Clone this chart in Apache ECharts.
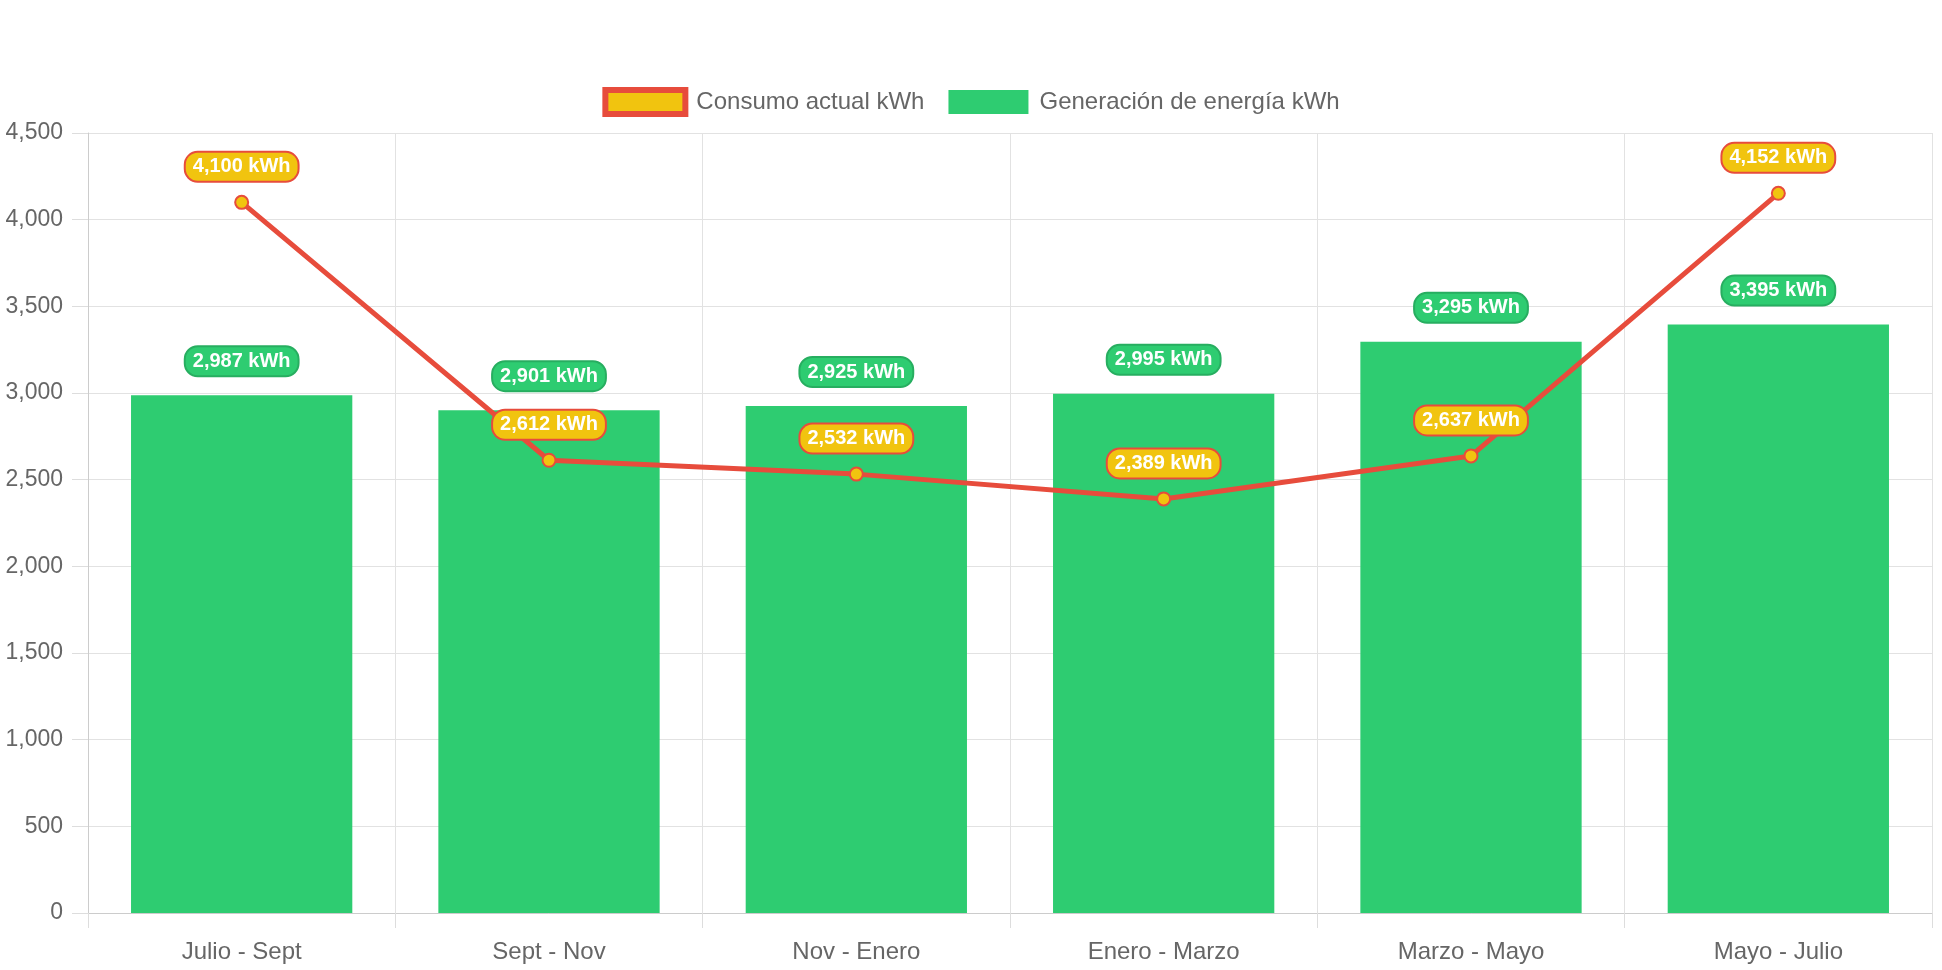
<!DOCTYPE html>
<html>
<head>
<meta charset="utf-8">
<style>
  html, body { margin: 0; padding: 0; background: #ffffff; }
  #chart { width: 1942px; height: 970px; }
</style>
<script src="https://cdn.jsdelivr.net/npm/echarts@6/dist/echarts.min.js"></script>
</head>
<body>
<div id="chart"></div>
<script>
const categories = ['Julio - Sept', 'Sept - Nov', 'Nov - Enero', 'Enero - Marzo', 'Marzo - Mayo', 'Mayo - Julio'];
const consumoActual = [4100, 2612, 2532, 2389, 2637, 4152];
const generacion = [2987, 2901, 2925, 2995, 3295, 3395];
const yTicks = { min: 0, max: 4500, interval: 500 };

const fmt = v => Number(v).toLocaleString('en-US');
const FONT = '"Liberation Sans", Arial, Helvetica, sans-serif';

const chart = echarts.init(document.getElementById('chart'));
chart.setOption({
  animation: false,
  textStyle: { fontFamily: FONT },
  legend: {
    top: 82,
    left: 'center',
    itemWidth: 80,
    itemHeight: 24,
    itemGap: 24,
    textStyle: { fontSize: 24, color: '#666666', fontFamily: FONT, padding: [0, 0, 0, 6] },
    data: [
      { name: 'Consumo actual kWh', icon: 'rect', itemStyle: { color: '#f1c40f', borderColor: '#e74c3c', borderWidth: 6 } },
      { name: 'Generación de energía kWh', icon: 'rect', itemStyle: { color: '#2ecc71', borderColor: '#2ecc71', borderWidth: 0 } }
    ]
  },
  grid: { left: 88, right: 10, top: 133, bottom: 57, containLabel: false },
  xAxis: {
    type: 'category',
    data: categories,
    axisLine: { lineStyle: { color: '#cccccc', width: 1 } },
    axisTick: { show: true, length: 15, lineStyle: { color: '#dddddd' } },
    splitLine: { show: true, lineStyle: { color: '#e2e2e2' } },
    axisLabel: { fontSize: 24, color: '#666666', margin: 27, fontFamily: FONT }
  },
  yAxis: {
    type: 'value',
    min: yTicks.min,
    max: yTicks.max,
    interval: yTicks.interval,
    axisLine: { show: true, lineStyle: { color: '#cccccc' } },
    axisTick: { show: true, length: 16, lineStyle: { color: '#dddddd' } },
    splitLine: { show: true, lineStyle: { color: '#e2e2e2' } },
    axisLabel: { fontSize: 23, color: '#666666', margin: 25, fontFamily: FONT, padding: [6, 0, 0, 0], formatter: v => fmt(v) }
  },
  series: [
    {
      name: 'Consumo actual kWh',
      type: 'line',
      z: 5,
      data: consumoActual,
      symbol: 'circle',
      symbolSize: 13,
      itemStyle: { color: '#f1c40f', borderColor: '#e74c3c', borderWidth: 2 },
      lineStyle: { color: '#e74c3c', width: 5 },
      label: {
        show: true,
        position: 'top',
        distance: 14,
        formatter: p => fmt(p.value) + ' kWh',
        fontSize: 20,
        fontWeight: 'bold',
        color: '#ffffff',
        fontFamily: FONT,
        backgroundColor: '#f1c40f',
        borderColor: '#e74c3c',
        borderWidth: 2,
        borderRadius: 12,
        padding: [4, 7],
        lineHeight: 20
      }
    },
    {
      name: 'Generación de energía kWh',
      type: 'bar',
      z: 2,
      data: generacion,
      barCategoryGap: '28%',
      itemStyle: { color: '#2ecc71' },
      label: {
        show: true,
        position: 'top',
        distance: 20,
        formatter: p => fmt(p.value) + ' kWh',
        fontSize: 20,
        fontWeight: 'bold',
        color: '#ffffff',
        fontFamily: FONT,
        backgroundColor: '#2ecc71',
        borderColor: '#27ae60',
        borderWidth: 2,
        borderRadius: 12,
        padding: [4, 7],
        lineHeight: 20
      }
    }
  ]
});
</script>
</body>
</html>
